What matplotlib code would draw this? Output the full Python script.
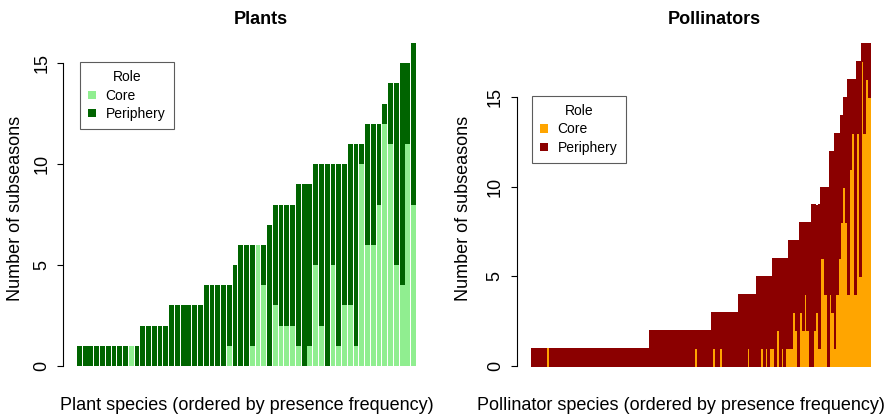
import numpy as np
import matplotlib
matplotlib.use("Agg")
import matplotlib.pyplot as plt
from matplotlib.patches import Patch

plt.rcParams['font.family'] = ['Liberation Sans', 'DejaVu Sans']

# plants: total subseasons per species and how many of them as core
plant_total = [1, 1, 1, 1, 1, 1, 1, 1, 1, 1, 1,
               2, 2, 2, 2, 2,
               3, 3, 3, 3, 3, 3,
               4, 4, 4, 4, 4,
               5,
               6, 6, 6, 6, 6,
               7,
               8, 8, 8, 8,
               9, 9, 9,
               10, 10, 10, 10, 10, 10,
               11, 11, 11,
               12, 12, 12,
               13,
               14, 14,
               15, 15,
               16]
plant_core = [0, 0, 0, 0, 0, 0, 0, 0, 0, 1, 0,
              0, 0, 0, 0, 0,
              0, 0, 0, 0, 0, 0,
              0, 0, 0, 0, 1,
              0,
              0, 0, 1, 6, 4,
              0,
              3, 2, 2, 2,
              1, 0, 1,
              5, 2, 0, 5, 1, 3,
              3, 1, 10,
              6, 6, 8,
              12,
              11, 5,
              4, 11,
              8]

# pollinators
pol_total = [1, 1, 1, 1, 1, 1, 1, 1, 1, 1, 1, 1, 1, 1, 1, 1, 1, 1, 1, 1,
             1, 1, 1, 1, 1, 1, 1, 1, 1, 1, 1, 1, 1, 1, 1, 1, 1, 1, 1, 1,
             1, 1, 1, 1, 1, 1, 1, 1, 1, 1, 1, 1,
             2, 2, 2, 2, 2, 2, 2, 2, 2, 2, 2, 2, 2, 2, 2, 2, 2, 2, 2, 2,
             2, 2, 2, 2, 2, 2, 2,
             3, 3, 3, 3, 3, 3, 3, 3, 3, 3, 3, 3,
             4, 4, 4, 4, 4, 4, 4, 4,
             5, 5, 5, 5, 5, 5, 5,
             6, 6, 6, 6, 6, 6, 6,
             7, 7, 7, 7, 7,
             8, 8, 8, 8, 8,
             9, 9, 9, 9,
             10, 10, 10, 10,
             12, 12,
             13, 13, 13,
             14,
             15, 15,
             16, 16, 16, 16,
             17, 17,
             18, 18, 18, 18]
pol_core = [0, 0, 0, 0, 0, 0, 0, 1, 0, 0, 0, 0, 0, 0, 0, 0, 0, 0, 0, 0,
            0, 0, 0, 0, 0, 0, 0, 0, 0, 0, 0, 0, 0, 0, 0, 0, 0, 0, 0, 0,
            0, 0, 0, 0, 0, 0, 0, 0, 0, 0, 0, 0,
            0, 0, 0, 0, 0, 0, 0, 0, 0, 0, 0, 0, 0, 0, 0, 0, 0, 0, 0, 0,
            1, 0, 0, 0, 0, 0, 0,
            0, 1, 0, 0, 1, 0, 0, 0, 0, 0, 0, 0,
            0, 0, 0, 0, 1, 0, 0, 0,
            0, 0, 1, 0, 1, 0, 1,
            1, 0, 2, 0, 1, 0, 1,
            1, 1, 3, 2, 0,
            3, 2, 4, 2, 0,
            0, 2, 3, 1,
            6, 6, 4, 0,
            4, 3,
            1, 4, 6,
            8,
            10, 8,
            4, 11, 13, 4,
            13, 5,
            17, 13, 16, 15]

W, H = 889, 416
fig = plt.figure(figsize=(W/100, H/100), dpi=100)

def panel(left_px, total, core, c_core, c_per, title, xlab, xlab_x, leg_x, leg_y, ylab_x, edge_lw):
    total = np.array(total)
    core = np.array(core)
    per = total - core
    n = len(total)
    x = 0.2 + 1.2*np.arange(n)
    ax = fig.add_axes([left_px/W, (H-379)/H, 366.2/W, 349/H])
    # narrow bars: same-colour edge, no antialiasing, so no hairline seams
    aa = edge_lw == 0
    ax.bar(x, core, width=1, align='edge', color=c_core, edgecolor=c_core,
           linewidth=np.where(core > 0, edge_lw, 0), antialiased=aa)
    ax.bar(x, per, width=1, bottom=core, align='edge', color=c_per, edgecolor=c_per,
           linewidth=np.where(per > 0, edge_lw, 0), antialiased=aa)
    rng = 1.2*n - 0.2
    ax.set_xlim(0.2 - 0.04*rng, 1.2*n + 0.04*rng)
    top = total.max()
    ax.set_ylim(-0.04*top, top*1.04)
    for s in ['top', 'right', 'bottom']:
        ax.spines[s].set_visible(False)
    ax.spines['left'].set_bounds(0, 15)
    ax.spines['left'].set_linewidth(0.8)
    ax.set_xticks([])
    ax.set_yticks([0, 5, 10, 15])
    ax.tick_params(axis='y', length=4.5, width=0.8, pad=5, labelsize=13, labelrotation=90)
    for lb in ax.get_yticklabels():
        lb.set_va('center')
    ax.text(0.54, 1.029, title, transform=ax.transAxes, ha='center', va='center',
            fontsize=13, fontweight='bold')
    ax.text(xlab_x, -0.0745, xlab, transform=ax.transAxes, ha='center', va='center', fontsize=13)
    ax.text(ylab_x, 0.49, 'Number of subseasons', transform=ax.transAxes, ha='center',
            va='center', rotation=90, fontsize=13)
    handles = [Patch(facecolor=c_core, edgecolor='none', label='Core'),
               Patch(facecolor=c_per, edgecolor='none', label='Periphery')]
    leg = ax.legend(handles=handles, title='Role', loc='upper left', bbox_to_anchor=(leg_x, leg_y),
                    fontsize=10, title_fontsize=10, frameon=True, fancybox=False,
                    handlelength=0.55, handleheight=0.55, handletextpad=0.7,
                    labelspacing=0.3, borderpad=0.6, borderaxespad=0)
    leg.get_frame().set_edgecolor('#333333')
    leg.get_frame().set_linewidth(0.8)
    return ax

panel(63.4, plant_total, plant_core, '#90EE90', '#006400', 'Plants',
      'Plant species (ordered by presence frequency)', 0.5, 0.045, 0.908, -0.13, 0)
panel(517, pol_total, pol_core, '#FFA500', '#8B0000', 'Pollinators',
      'Pollinator species (ordered by presence frequency)', 0.448, 0.041, 0.811, -0.147, 0.6)

fig.savefig('out.png', dpi=100)
